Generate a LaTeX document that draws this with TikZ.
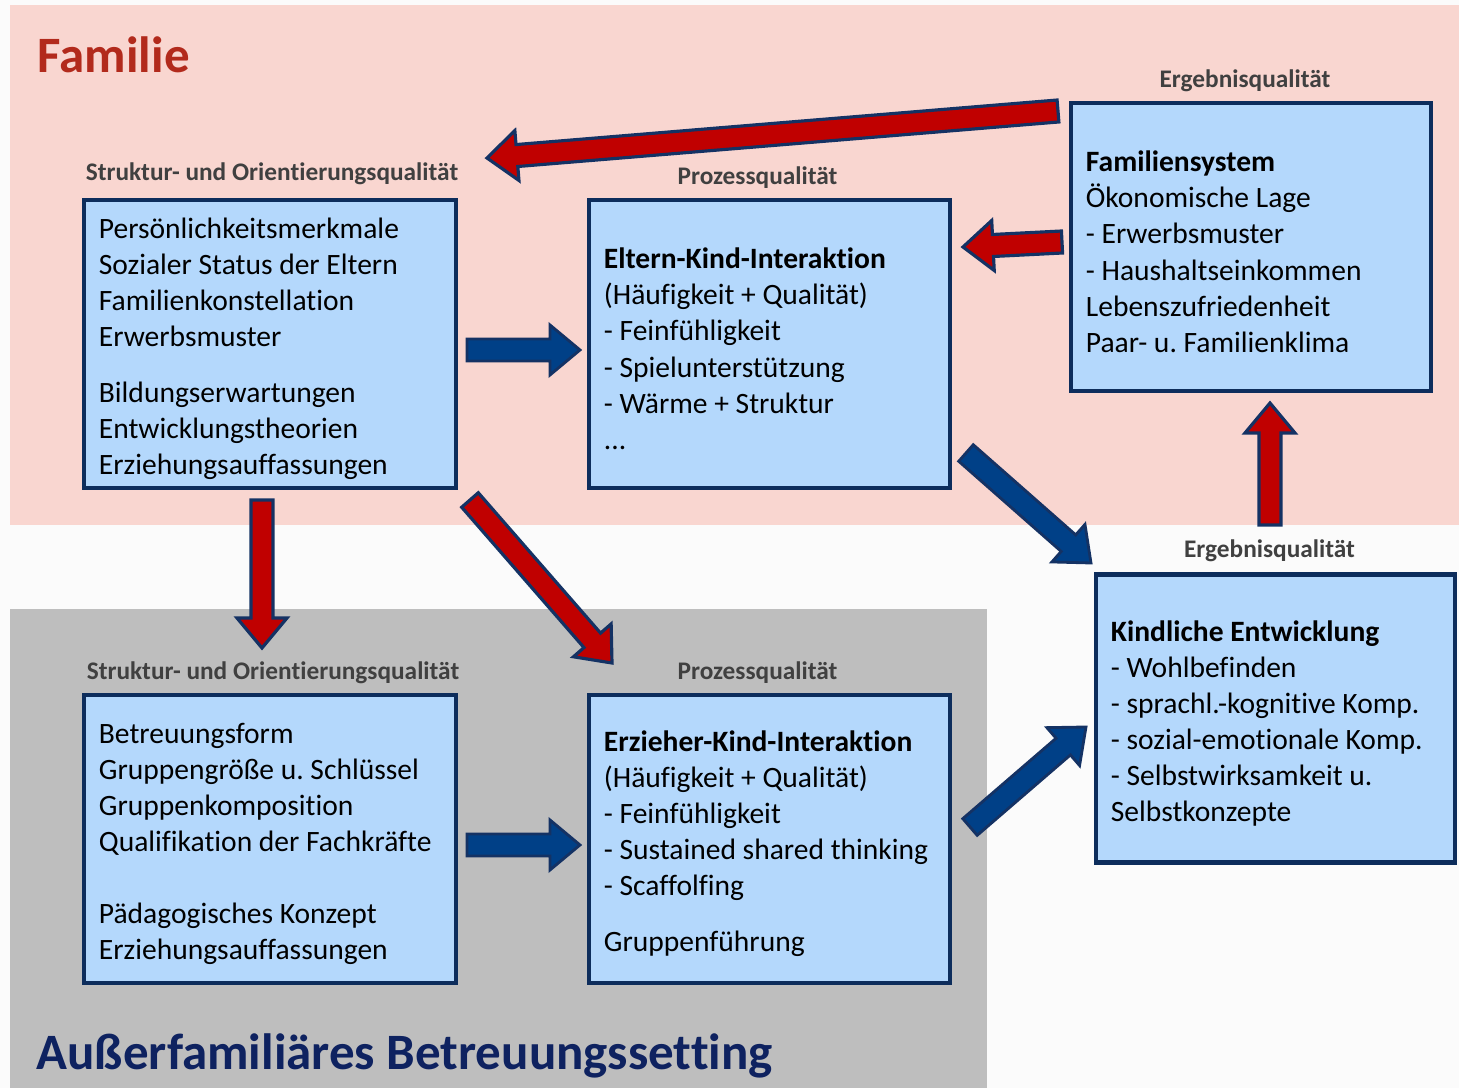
\documentclass[tikz,border=0pt]{standalone}
\usepackage{fontspec}
\setmainfont{Carlito}[Ligatures={CommonOff,ContextualOff,RequiredOff}, Contextuals=AlternateOff, RawFeature=-ccmp]
\usetikzlibrary{calc}

\definecolor{famPink}{RGB}{249,214,208}
\definecolor{kitaGray}{RGB}{190,190,190}
\definecolor{pageWhite}{RGB}{251,251,251}
\definecolor{boxFill}{RGB}{180,216,252}
\definecolor{boxLine}{RGB}{13,45,92}
\definecolor{arrowLine}{RGB}{20,50,100}
\definecolor{arrowRed}{RGB}{192,0,0}
\definecolor{arrowBlue}{RGB}{0,64,135}
\definecolor{labelGray}{RGB}{64,64,64}
\definecolor{titleRed}{RGB}{178,42,28}
\definecolor{titleNavy}{RGB}{14,34,96}

% block arrow: style, tail, tip
\newcommand{\blockarrow}[3]{%
  \coordinate (neck) at ($(#3)!0.30cm!(#2)$);
  \draw[#1] ($(#2)!0.11cm!90:(#3)$) -- ($(neck)!0.11cm!90:(#3)$) -- ($(neck)!0.25cm!90:(#3)$) -- (#3)
    -- ($(neck)!0.25cm!-90:(#3)$) -- ($(neck)!0.11cm!-90:(#3)$) -- ($(#2)!0.11cm!-90:(#3)$) -- cycle;}

\begin{document}
\frenchspacing
\begin{tikzpicture}[x=0.01cm, y=-0.01cm,
    qbox/.style={draw=boxLine, line width=1.2pt, fill=boxFill, minimum height=2.88cm, inner xsep=0.15cm, inner ysep=0.05cm, align=left, font=\fontsize{8.4}{10.24}\selectfont, execute at begin node={\spaceskip=0.226em\relax\rule{0pt}{8.6pt}}},
    qlabel/.style={font=\bfseries\fontsize{7.2}{8.6}\selectfont, text=labelGray, label distance=-0.03cm},
    redarrow/.style={draw=arrowLine, line width=0.9pt, fill=arrowRed, line join=miter},
    bluearrow/.style={draw=arrowLine, line width=0.8pt, fill=arrowBlue, line join=miter},
    title/.style={anchor=base west, inner sep=0, font=\bfseries\fontsize{14.5}{17}\selectfont}]
\useasboundingbox (0,0) rectangle (1459,1088);
\fill[pageWhite] (0,0) rectangle (1459,1088);
\fill[famPink] (10,5) rectangle (1459,525);
\fill[kitaGray] (10,609) rectangle (987,1088);

\node[title, text=titleRed] (famTitle) at (37,73) {Familie};
\node[title, text=titleNavy] (kitaTitle) at (36,1070) {Außerfamiliäres Betreuungssetting};

% Familie
\node[qbox, text width=3.42cm, label={[qlabel, name=famStrukturLab, label distance=0.01cm, xshift=0.02cm]above:{Struktur- und Orientierungsqualität}}] (famStruktur) at (270,344) {Persönlichkeitsmerkmale\\
Sozialer Status der Eltern\\
Familienkonstellation\\
Erwerbsmuster\\[0.2cm]
Bildungserwartungen\\
Entwicklungstheorien\\
Erziehungsauffassungen};
\node[qbox, text width=3.31cm, label={[qlabel, name=famProzessLab, xshift=-0.12cm]above:{Prozessqualität}}] (famProzess) at (769.5,344) {\textbf{Eltern-Kind-Interaktion}\\
(Häufigkeit + Qualität)\\
- Feinfühligkeit\\
- Spielunterstützung\\
- Wärme + Struktur\\
...};
\node[qbox, text width=3.30cm, label={[qlabel, name=famSystemLab, xshift=-0.06cm]above:{Ergebnisqualität}}] (famSystem) at (1251,247) {\textbf{Familiensystem}\\
Ökonomische Lage\\
- Erwerbsmuster\\
- Haushaltseinkommen\\
Lebenszufriedenheit\\
Paar- u. Familienklima};

% Kind
\node[qbox, text width=3.29cm, label={[qlabel, name=kindEntwLab, label distance=-0.02cm, xshift=-0.06cm]above:{Ergebnisqualität}}] (kindEntw) at (1275.5,718.5) {\textbf{Kindliche Entwicklung}\\
- Wohlbefinden\\
- sprachl.-kognitive Komp.\\
- sozial-emotionale Komp.\\
- Selbstwirksamkeit u.\\
Selbstkonzepte};

% Betreuungssetting
\node[qbox, text width=3.42cm, label={[qlabel, name=kitaStrukturLab, xshift=0.03cm]above:{Struktur- und Orientierungsqualität}}] (kitaStruktur) at (270,839) {Betreuungsform\\
Gruppengröße u. Schlüssel\\
Gruppenkomposition\\
Qualifikation der Fachkräfte\\[0.36cm]
Pädagogisches Konzept\\
Erziehungsauffassungen};
\node[qbox, text width=3.31cm, label={[qlabel, name=kitaProzessLab, xshift=-0.12cm]above:{Prozessqualität}}] (kitaProzess) at (769.5,839) {\textbf{Erzieher-Kind-Interaktion}\\
(Häufigkeit + Qualität)\\
- Feinfühligkeit\\
- Sustained shared thinking\\
- Scaffolfing\\[0.2cm]
Gruppenführung};

% arrow ends
\coordinate (sysStrS) at (1058,111);
\coordinate (sysStrE) at (487,158);
\coordinate (sysProzS) at (1062,242);
\coordinate (sysProzE) at (963,247);
\coordinate (entSysS) at (1270,525);
\coordinate (entSysE) at (1270,403);
\coordinate (strKitaS) at (262,500);
\coordinate (strKitaE) at (262,648);
\coordinate (strProzS) at (470,500);
\coordinate (strProzE) at (612,663);
\coordinate (famFlowS) at (467,350);
\coordinate (famFlowE) at (580,350);
\coordinate (prozEntS) at (966,453);
\coordinate (prozEntE) at (1091,563);
\coordinate (kitaFlowS) at (467,845);
\coordinate (kitaFlowE) at (580,845);
\coordinate (kitaEntS) at (970,827);
\coordinate (kitaEntE) at (1086,727);

\blockarrow{redarrow}{sysStrS}{sysStrE}
\blockarrow{redarrow}{sysProzS}{sysProzE}
\blockarrow{redarrow}{entSysS}{entSysE}
\blockarrow{redarrow}{strKitaS}{strKitaE}
\blockarrow{redarrow}{strProzS}{strProzE}
\blockarrow{bluearrow}{famFlowS}{famFlowE}
\blockarrow{bluearrow}{prozEntS}{prozEntE}
\blockarrow{bluearrow}{kitaFlowS}{kitaFlowE}
\blockarrow{bluearrow}{kitaEntS}{kitaEntE}

\end{tikzpicture}
\end{document}
